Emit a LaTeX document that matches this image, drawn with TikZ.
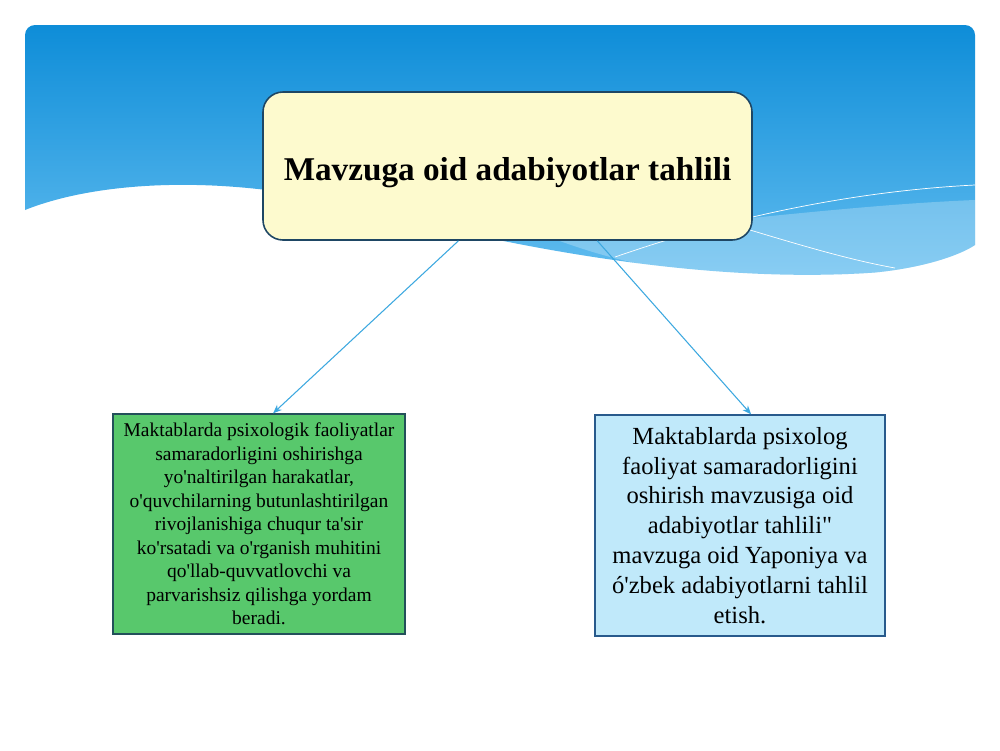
\documentclass[tikz,border=0pt]{standalone}
\usepackage{fontspec}
\setmainfont{Liberation Serif}[Ligatures=TeXOff]
\usetikzlibrary{calc,arrows.meta}

\definecolor{bannertop}{RGB}{14,141,216}
\definecolor{bannerbot}{RGB}{100,190,240}
\definecolor{titlefill}{RGB}{253,250,206}
\definecolor{titleline}{RGB}{30,70,100}
\definecolor{greenfill}{RGB}{88,200,108}
\definecolor{greenline}{RGB}{35,80,90}
\definecolor{bluefill}{RGB}{192,233,250}
\definecolor{blueline}{RGB}{40,90,140}
\definecolor{arrowblue}{RGB}{60,168,224}

\tikzset{
  titlebox/.style={draw=titleline, line width=0.9pt, fill=titlefill, rounded corners=0.4cm,
    minimum width=9.78cm, minimum height=2.96cm, text height=20pt, text depth=4pt,
    font=\fontsize{18.9}{22}\selectfont\bfseries},
  greenbox/.style={draw=greenline, line width=0.8pt, fill=greenfill, align=center,
    minimum width=5.84cm, minimum height=4.4cm, font=\fontsize{11.1}{13.4}\selectfont},
  bluebox/.style={draw=blueline, line width=0.8pt, fill=bluefill, align=center,
    minimum width=5.8cm, minimum height=4.42cm, font=\fontsize{14}{17}\selectfont},
  link/.style={draw=arrowblue, line width=0.6pt, -{Stealth[length=5pt,width=4pt]}}
}

\begin{document}
\begin{tikzpicture}
          \useasboundingbox (0, 0) rectangle (20, -15);
          \fill[white] (0, 0) rectangle (20, -15);
          % banner
          \shade[top color=bannertop, bottom color=bannerbot]
            (0.5, -4.2) -- (0.5, -0.7) arc (180:90:0.2) -- (19.3, -0.5) arc (90:0:0.2) -- (19.5, -4.9)
            .. controls (19.2, -5.1) and (18.5, -5.35) .. (17.5, -5.45)
            .. controls (14, -5.7) and (10, -4.9) .. (7, -4.1)
            .. controls (4.5, -3.5) and (2, -3.6) .. (0.5, -4.2) -- cycle;
          \fill[white, opacity=0.25] (11, -4.75) .. controls (14, -4.5) and (17, -4.1) .. (19.5, -4.0)
            -- (19.5, -4.9) .. controls (19.2, -5.1) and (18.5, -5.35) .. (17.5, -5.45)
            .. controls (14, -5.7) and (12.5, -5.3) .. (11, -4.75) -- cycle;
          \draw[white, line width=0.4pt] (12.3, -5.14) .. controls (15, -4.2) and (17.5, -3.8) .. (19.5, -3.7);
          \draw[white, line width=0.4pt] (15, -4.6) .. controls (16, -4.9) and (17, -5.2) .. (17.9, -5.36);
          %
          \node[titlebox] (title) at (10.15, -3.32) {Mavzuga oid adabiyotlar tahlili};
          \node[greenbox] (left) at (5.18, -10.48) {Maktablarda psixologik faoliyatlar\\
            samaradorligini oshirishga\\ yo'naltirilgan harakatlar,\\
            o'quvchilarning butunlashtirilgan\\ rivojlanishiga chuqur ta'sir\\
            ko'rsatadi va o'rganish muhitini\\ qo'llab-quvvatlovchi va\\
            parvarishsiz qilishga yordam\\ beradi.};
          \node[bluebox] (right) at (14.8, -10.51) {Maktablarda psixolog\\ faoliyat samaradorligini\\
            oshirish mavzusiga oid\\ adabiyotlar tahlili"\\ mavzuga oid Yaponiya va\\
            ó'zbek adabiyotlarni tahlil\\ etish.};
          %
          \coordinate (outl) at ($(title.south west)!0.4!(title.south east)$);
          \coordinate (outr) at ($(title.south west)!0.683!(title.south east)$);
          \coordinate (inl) at ($(left.north west)!0.548!(left.north east)$);
          \coordinate (inr) at ($(right.north west)!0.538!(right.north east)$);
          \draw[link] (outl) -- (inl);
          \draw[link] (outr) -- (inr);
        \end{tikzpicture}
\end{document}
